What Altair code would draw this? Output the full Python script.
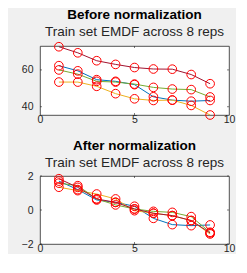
import altair as alt
import pandas as pd

x_vals = [1, 2, 3, 4, 5, 6, 7, 8, 9]
series_names = ["rep1", "rep2", "rep3", "rep4"]
series_colors = ["#0072BD", "#EDB120", "#77AC30", "#A2142F"]

before_blue = [62.3, 59.5, 54.7, 53.8, 52.0, 45.4, 43.6, 43.0, 43.4]
before_yellow = [53.4, 53.4, 51.1, 47.1, 44.3, 43.4, 43.6, 40.7, 35.5]
before_green = [60.0, 57.7, 53.8, 53.4, 52.3, 50.5, 49.6, 49.3, 45.3]
before_maroon = [72.6, 69.3, 65.0, 63.0, 61.3, 60.5, 60.4, 57.5, 52.5]

after_blue = [1.70, 1.20, 0.59, 0.45, 0.22, -0.49, -0.86, -0.92, -0.88]
after_yellow = [1.34, 1.14, 0.94, 0.65, -0.04, -0.19, -0.33, -0.62, -1.41]
after_green = [1.58, 1.43, 0.65, 0.30, 0.06, -0.08, -0.14, -0.39, -1.31]
after_maroon = [1.84, 1.33, 0.65, 0.45, 0.06, -0.19, -0.33, -0.62, -1.35]

titles = ["Before normalization", "After normalization"]
subtitle = "Train set EMDF across 8 reps"
x_ticks = [0, 5, 10]
before_yticks = [40, 60]
after_yticks = [-2, 0, 2]
before_domain = [35.5, 73.0]
after_domain = [-2, 2]


def long_df(series_list):
    rows = []
    for name, vals in zip(series_names, series_list):
        for xv, yv in zip(x_vals, vals):
            rows.append({"x": xv, "y": yv, "rep": name})
    return pd.DataFrame(rows)


W = 189
FONT = "Liberation Sans"


def panel(df, title, ydomain, yticks, h):
    xs = alt.Scale(domain=[0, 10], nice=False, zero=False)
    ys = alt.Scale(domain=ydomain, nice=False, zero=False)
    xax = alt.Axis(values=x_ticks, ticks=False, tickSize=0, domain=False, grid=False,
                   labelFontSize=10.5, labelColor="#262626", labelFont=FONT,
                   labelPadding=-1, title=None, labelFlush=False, labelOverlap=False)
    yax = alt.Axis(values=yticks, ticks=False, tickSize=0, domain=False, grid=False,
                   labelFontSize=10.5, labelColor="#262626", labelFont=FONT,
                   labelPadding=7, title=None, labelFlush=False, labelOverlap=False)
    base = alt.Chart(df)
    lines = base.mark_line(strokeWidth=1).encode(
        x=alt.X("x:Q", scale=xs, axis=xax),
        y=alt.Y("y:Q", scale=ys, axis=yax),
        color=alt.Color("rep:N", scale=alt.Scale(domain=series_names, range=series_colors), legend=None),
        detail="rep:N",
    )
    pts = base.mark_point(shape="circle", filled=False, color="#FF0000", size=75, strokeWidth=1, opacity=1).encode(
        x=alt.X("x:Q", scale=xs, axis=xax),
        y=alt.Y("y:Q", scale=ys, axis=yax),
    )
    tick_df = pd.DataFrame({"t": [5]})
    xt_bot = alt.Chart(tick_df).mark_rule(color="#262626", strokeWidth=0.6).encode(
        x=alt.X("t:Q", scale=xs, axis=xax), y=alt.value(h), y2=alt.value(h - 2))
    xt_top = alt.Chart(tick_df).mark_rule(color="#262626", strokeWidth=0.6).encode(
        x=alt.X("t:Q", scale=xs, axis=xax), y=alt.value(0), y2=alt.value(2))
    ytick_df = pd.DataFrame({"t": yticks})
    yt_l = alt.Chart(ytick_df).mark_rule(color="#262626", strokeWidth=0.6).encode(
        y=alt.Y("t:Q", scale=ys, axis=yax), x=alt.value(0), x2=alt.value(2))
    yt_r = alt.Chart(ytick_df).mark_rule(color="#262626", strokeWidth=0.6).encode(
        y=alt.Y("t:Q", scale=ys, axis=yax), x=alt.value(W), x2=alt.value(W - 2))
    return alt.layer(lines, pts, xt_bot, xt_top, yt_l, yt_r).properties(
        width=W, height=h,
        title=alt.Title(title, subtitle=subtitle, font=FONT, fontSize=13.5, fontWeight="bold",
                        color="#000000", subtitleFont=FONT, subtitleFontSize=13.5,
                        subtitleColor="#262626", subtitlePadding=3, offset=2, anchor="middle"),
    )


top = panel(long_df([before_blue, before_yellow, before_green, before_maroon]),
            titles[0], before_domain, before_yticks, 69)
bottom = panel(long_df([after_blue, after_yellow, after_green, after_maroon]),
               titles[1], after_domain, after_yticks, 68)

chart = alt.vconcat(top, bottom, spacing=13).properties(
    background="#F0F0F0", padding={"left": 12, "top": 0, "right": 0, "bottom": 0}
).configure_view(fill="#FFFFFF", stroke="#262626", strokeWidth=0.8).resolve_scale(
    x="independent", y="independent")

chart.save("out.html", embed_options={"renderer": "svg", "actions": False})
